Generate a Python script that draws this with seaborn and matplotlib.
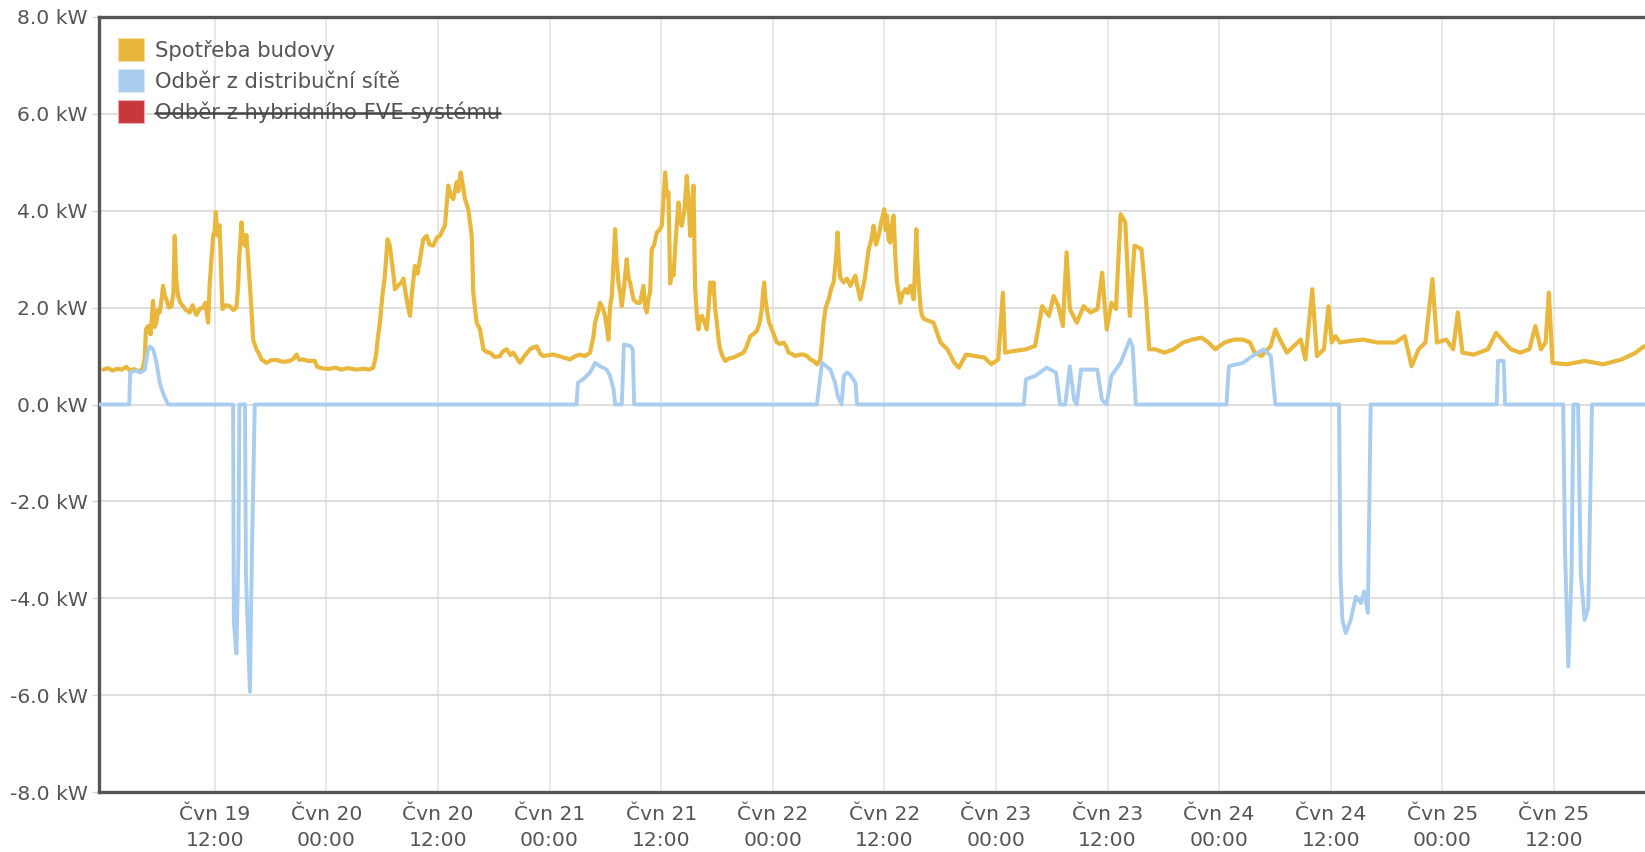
import matplotlib
matplotlib.use("Agg")
import matplotlib.pyplot as plt
import matplotlib.dates as mdates
from matplotlib.patches import Patch
from matplotlib.lines import Line2D
import pandas as pd
import seaborn as sns

START = pd.Timestamp("2019-06-19 00:00")

# Spotřeba budovy: hours since Čvn 19 00:00, kW
cons_h = [0.0, 0.5, 1.0, 1.5, 2.0, 2.5, 2.85, 3.3, 3.8, 4.2, 4.47, 4.6, 4.82, 5.1, 5.36, 5.55, 5.72, 5.9,
          6.08, 6.3, 6.44, 6.62, 6.8, 7.05, 7.34, 7.55, 7.69, 7.85, 8.05, 8.3, 8.59, 8.9, 9.31, 9.6, 10.03,
          10.4, 10.75, 11.0, 11.28, 11.46, 11.82, 12.0, 12.11, 12.25, 12.36, 12.5, 12.61, 12.82, 13.2, 13.61,
          14.0, 14.33, 14.5, 14.62, 14.87, 15.05, 15.23, 15.4, 15.59, 15.8, 15.94, 16.12, 16.48, 16.75, 17.02,
          17.56, 18.1, 18.63, 19.3, 20.07, 20.5, 20.79, 21.1, 21.5, 22.0, 22.4, 22.76, 23.0, 23.3, 23.8, 24.38,
          25.0, 25.6, 26.3, 27.25, 28.0, 28.6, 29.04, 29.33, 29.55, 29.76, 30.0, 30.29, 30.58, 30.8, 31.01,
          31.2, 31.37, 31.7, 32.09, 32.3, 32.45, 32.7, 32.99, 33.2, 33.52, 33.8, 34.06, 34.42, 34.78, 35.1,
          35.5, 35.9, 36.22, 36.5, 36.75, 37.11, 37.4, 37.65, 38.01, 38.2, 38.44, 38.7, 38.91, 39.27, 39.63,
          39.8, 40.16, 40.52, 40.88, 41.25, 41.6, 42.1, 42.67, 43.0, 43.39, 43.8, 44.11, 44.5, 44.82, 45.3,
          45.9, 46.3, 46.62, 47.0, 47.34, 47.9, 48.41, 49.0, 49.49, 49.9, 50.21, 50.8, 51.28, 51.8, 52.36,
          52.72, 52.9, 53.2, 53.43, 53.7, 53.97, 54.15, 54.33, 54.5, 54.69, 54.9, 55.05, 55.2, 55.41, 55.6,
          55.77, 56.0, 56.3, 56.5, 56.66, 57.02, 57.4, 57.74, 58.1, 58.3, 58.46, 58.65, 58.81, 58.99, 59.25,
          59.53, 59.8, 60.07, 60.25, 60.43, 60.6, 60.79, 60.97, 61.15, 61.33, 61.6, 61.86, 62.05, 62.22, 62.5,
          62.76, 62.95, 63.12, 63.3, 63.48, 63.6, 63.66, 63.85, 64.02, 64.2, 64.38, 64.65, 64.91, 65.1, 65.27,
          65.45, 65.63, 65.8, 65.99, 66.2, 66.35, 66.6, 66.89, 67.3, 67.78, 68.3, 68.86, 69.2, 69.58, 69.9,
          70.3, 70.6, 70.83, 70.95, 71.08, 71.2, 71.37, 71.6, 71.91, 72.2, 72.45, 72.8, 73.17, 73.45, 73.7,
          74.0, 74.42, 74.9, 75.32, 75.7, 76.04, 76.4, 76.75, 77.11, 77.3, 77.47, 77.7, 78.01, 78.3, 78.55,
          78.8, 78.98, 79.1, 79.26, 79.62, 80.0, 80.34, 80.6, 80.88, 81.15, 81.42, 81.9, 82.31, 82.6, 82.85,
          83.1, 83.39, 83.6, 83.75, 84.0, 84.15, 84.29, 84.45, 84.64, 84.8, 85.0, 85.2, 85.36, 85.55, 85.72,
          86.0, 86.26, 86.5, 86.8, 87.0, 87.16, 87.3, 87.44, 87.55, 87.69, 87.9, 88.05, 88.3, 89.29, 90.04,
          90.78, 91.53, 92.03, 92.77, 93.76, 94.76, 95.5, 96.25, 96.75, 96.99, 97.74, 99.23, 100.22, 100.97,
          101.71, 102.21, 102.71, 103.2, 103.6, 103.95, 104.69, 105.44, 106.18, 106.93, 107.42, 107.92,
          108.42, 108.91, 109.41, 109.91, 110.4, 110.9, 111.65, 112.14, 112.49, 113.14, 114.13, 115.12,
          116.12, 117.11, 118.1, 118.85, 119.59, 120.59, 121.58, 122.57, 123.32, 123.82, 124.56, 125.56,
          126.05, 126.55, 127.29, 128.04, 128.78, 129.28, 130.02, 130.52, 131.27, 131.76, 132.11, 132.51,
          133.0, 134.0, 135.49, 136.98, 138.96, 139.96, 140.7, 141.45, 142.19, 142.94, 143.43, 144.43,
          145.17, 145.67, 146.17, 147.41, 148.9, 149.79, 150.7, 151.38, 152.37, 153.37, 154.01, 154.61,
          155.11, 155.46, 155.85, 157.34, 159.33, 161.32, 163.3, 164.79, 165.69]
cons_kw = [0.72, 0.75, 0.7, 0.74, 0.72, 0.78, 0.7, 0.73, 0.69, 0.72, 0.95, 1.55, 1.62, 1.45, 2.14, 1.6, 1.7, 1.95,
           1.9, 2.2, 2.45, 2.25, 2.17, 2.0, 2.03, 2.3, 3.48, 2.6, 2.24, 2.1, 2.03, 1.95, 1.9, 2.05, 1.85,
           1.98, 2.0, 2.1, 1.69, 2.5, 3.48, 3.6, 3.97, 3.5, 3.48, 3.7, 3.2, 1.97, 2.05, 2.03,
           1.95, 2.0, 2.4, 3.0, 3.76, 3.4, 3.28, 3.5, 3.0, 2.4, 1.97, 1.34, 1.14, 1.05, 0.93,
           0.86, 0.92, 0.92, 0.88, 0.9, 0.95, 1.03, 0.92, 0.93, 0.9, 0.9, 0.9, 0.78, 0.76, 0.74, 0.74,
           0.76, 0.72, 0.75, 0.72, 0.74, 0.72, 0.76, 1.0, 1.4, 1.69, 2.2, 2.66, 3.41, 3.3, 3.0,
           2.7, 2.38, 2.45, 2.52, 2.6, 2.38, 2.1, 1.83, 2.3, 2.86, 2.7, 3.0, 3.41, 3.48, 3.3,
           3.28, 3.45, 3.48, 3.6, 3.69, 4.52, 4.3, 4.24, 4.59, 4.4, 4.79, 4.5, 4.24, 4.03, 3.48,
           2.31, 1.69, 1.55, 1.14, 1.08, 1.07, 0.98, 1.0, 1.1, 1.14, 1.02, 1.07, 0.95, 0.86, 1.0,
           1.14, 1.18, 1.2, 1.05, 1.0, 1.02, 1.03, 1.0, 0.97, 0.95, 0.93, 1.0, 1.03, 1.0, 1.07,
           1.41, 1.69, 1.9, 2.1, 2.0, 1.83, 1.6, 1.34, 2.0, 2.24, 3.0, 3.62, 3.0, 2.52, 2.3,
           2.03, 2.4, 3.0, 2.6, 2.52, 2.17, 2.1, 2.1, 2.45, 2.0, 1.9, 2.2, 2.31, 3.2, 3.3,
           3.55, 3.6, 3.69, 4.2, 4.79, 4.3, 4.38, 2.5, 2.8, 2.66, 3.5, 4.17, 3.8, 3.69, 4.0,
           4.72, 4.2, 3.48, 4.0, 4.52, 3.0, 2.41, 1.8, 1.55, 1.8, 1.83, 1.7, 1.55, 2.0, 2.52,
           2.3, 2.52, 2.0, 1.69, 1.3, 1.14, 1.0, 0.9, 0.95, 0.97, 1.02, 1.07, 1.2, 1.41, 1.45,
           1.52, 1.7, 1.97, 2.3, 2.52, 2.2, 1.97, 1.7, 1.55, 1.4, 1.28, 1.25, 1.28, 1.2, 1.07,
           1.05, 1.0, 1.03, 1.03, 1.0, 0.93, 0.9, 0.83, 0.93, 1.3, 1.69, 2.0, 2.17, 2.4, 2.52,
           3.0, 3.55, 3.0, 2.62, 2.52, 2.6, 2.45, 2.55, 2.66, 2.4, 2.17, 2.6, 3.2, 3.4, 3.69,
           3.3, 3.48, 3.7, 3.83, 4.03, 3.6, 3.9, 3.4, 3.34, 3.7, 3.9, 3.0, 2.52, 2.3, 2.1,
           2.3, 2.38, 2.3, 2.45, 2.3, 2.17, 2.8, 3.62, 3.0, 2.52, 2.0, 1.83, 1.76, 1.69, 1.28,
           1.14, 0.86, 0.76, 1.03, 1.0, 0.97, 0.83, 0.93, 2.31, 1.07, 1.1, 1.14, 1.21, 2.03,
           1.83, 2.24, 2.03, 1.62, 3.14, 1.97, 1.69, 2.03, 1.9, 1.97, 2.72, 1.55,
           2.1, 1.97, 3.93, 3.76, 1.83, 3.28, 3.21, 2.17, 1.14, 1.14, 1.07, 1.14,
           1.28, 1.34, 1.38, 1.28, 1.14, 1.28, 1.34, 1.34, 1.28, 1.07, 1.0, 1.21,
           1.55, 1.34, 1.07, 1.21, 1.34, 0.93, 2.38, 1.0, 1.14, 2.03, 1.28, 1.41,
           1.28, 1.31, 1.34, 1.28, 1.28, 1.41, 0.79, 1.14, 1.28, 2.59, 1.28, 1.34,
           1.14, 1.9, 1.07, 1.03, 1.14, 1.48, 1.28, 1.14, 1.07, 1.14, 1.62, 1.14,
           1.28, 2.31, 0.86, 0.83, 0.9, 0.83, 0.93, 1.07, 1.2]

# Odběr z distribuční sítě: hours since Čvn 19 00:00, kW
grid_h = [-0.5, 2.8, 2.9, 3.5, 4.0, 4.47, 4.8, 5.0, 5.36, 5.7, 6.08, 6.5, 6.98,
          13.97, 14.05, 14.33, 14.55, 14.65, 15.25, 15.35, 15.78, 16.0, 16.3,
          50.9, 51.05, 51.6, 52.36, 52.9, 53.43, 54.15, 54.5, 54.9, 55.05, 55.77, 56.0, 56.66, 56.95, 57.1,
          76.75, 77.3, 78.2, 78.7, 79.0, 79.4, 79.65, 79.98, 80.3, 80.9, 81.06,
          99.0, 99.23, 100.22, 101.46, 102.46, 102.9, 103.45, 103.95, 104.4, 104.7, 105.15, 106.9, 107.4,
          107.9, 108.42, 109.41, 110.4, 110.7, 111.05,
          120.8, 121.05, 122.57, 123.57, 124.8, 125.56, 126.05,
          132.9, 133.05, 133.26, 133.62, 134.15, 134.7, 135.25, 135.6, 136.0, 136.3,
          149.85, 150.0, 150.6, 150.75,
          157.0, 157.2, 157.55, 157.9, 158.1, 158.6, 158.9, 159.3, 159.7, 160.1, 166.0]
grid_kw = [0.0, 0.0, 0.66, 0.7, 0.66, 0.72, 1.1, 1.2, 1.14, 0.9, 0.45, 0.2, 0.0,
           0.0, -4.5, -5.14, -3.0, 0.0, 0.0, -3.5, -5.93, -3.0, 0.0,
           0.0, 0.45, 0.52, 0.66, 0.86, 0.79, 0.72, 0.59, 0.3, 0.0, 0.0, 1.24, 1.21, 1.14, 0.0,
           0.0, 0.86, 0.72, 0.45, 0.17, 0.0, 0.59, 0.66, 0.62, 0.45, 0.0,
           0.0, 0.52, 0.59, 0.76, 0.66, 0.0, 0.0, 0.79, 0.1, 0.0, 0.72, 0.72, 0.1,
           0.0, 0.59, 0.86, 1.34, 1.2, 0.0,
           0.0, 0.79, 0.86, 1.0, 1.14, 1.0, 0.0,
           0.0, -3.5, -4.45, -4.72, -4.45, -3.97, -4.1, -3.86, -4.3, 0.0,
           0.0, 0.9, 0.9, 0.0,
           0.0, -3.0, -5.41, -3.5, 0.0, 0.0, -3.5, -4.45, -4.2, 0.0, 0.0]

legend_labels = ["Spotřeba budovy", "Odběr z distribuční sítě", "Odběr z hybridního FVE systému"]
y_ticks = [-8, -6, -4, -2, 0, 2, 4, 6, 8]
x_tick_hours = list(range(12, 157, 12))
month_abbr = "Čvn"

COL_CONS = "#e8b73c"
COL_GRID = "#a9cdee"
COL_HYB = "#c8373a"
TXT = "#555555"
FS = 14.6

sns.set_theme(style="white")
plt.rcParams["font.family"] = ["DejaVu Sans"]

df_c = pd.DataFrame({"t": START + pd.to_timedelta(cons_h, unit="h"), "kW": cons_kw})
df_g = pd.DataFrame({"t": START + pd.to_timedelta(grid_h, unit="h"), "kW": grid_kw})

fig = plt.figure(figsize=(16.45, 8.52), dpi=100)
ax = fig.add_axes([99 / 1645, 60 / 852, 1546 / 1645, 775 / 852])

sns.lineplot(data=df_c, x="t", y="kW", color=COL_CONS, linewidth=3.0, estimator=None, sort=False, ax=ax, zorder=3)
sns.lineplot(data=df_g, x="t", y="kW", color=COL_GRID, linewidth=2.8, estimator=None, sort=False, ax=ax, zorder=4)

ax.set_xlim(START + pd.Timedelta(hours=-0.45), START + pd.Timedelta(hours=165.8))
ax.set_ylim(-8, 8)
ax.set_yticks(y_ticks)
ax.yaxis.set_major_formatter(plt.FuncFormatter(lambda v, p: f"{v:.1f} kW"))
ticks = [START + pd.Timedelta(hours=h) for h in x_tick_hours]
ax.set_xticks([mdates.date2num(t) for t in ticks])


def fmt_x(v, p):
    d = mdates.num2date(v)
    return f"{month_abbr} {d.day}\n{d:%H:%M}"


ax.xaxis.set_major_formatter(plt.FuncFormatter(fmt_x))
ax.set_xlabel("")
ax.set_ylabel("")

ax.yaxis.grid(True, color="#d4d4d4", linewidth=1.1)
ax.xaxis.grid(True, color="#e2e2e2", linewidth=1.1)
ax.set_axisbelow(True)

for s in ["left", "bottom", "top"]:
    ax.spines[s].set_color("#555555")
    ax.spines[s].set_linewidth(2.4)
ax.spines["right"].set_visible(False)

ax.tick_params(axis="y", length=5, width=1, color="#d4d4d4", pad=3, labelsize=FS, labelcolor=TXT, left=True)
ax.tick_params(axis="x", length=0, pad=9, labelsize=FS, labelcolor=TXT)
for lab in ax.get_xticklabels():
    lab.set_linespacing(1.5)

handles = [Patch(facecolor=COL_CONS, edgecolor="#f3dca0", linewidth=0.8),
           Patch(facecolor=COL_GRID, edgecolor="#d7e8f7", linewidth=0.8),
           Patch(facecolor=COL_HYB, edgecolor="#e9b0b0", linewidth=0.8)]
leg = ax.legend(handles, legend_labels, loc="upper left", bbox_to_anchor=(19 / 1546, 1 - 21 / 775),
                frameon=False, fontsize=FS + 0.6, handlelength=1.25, handleheight=1.3, handletextpad=0.5,
                labelspacing=0.38, borderpad=0, borderaxespad=0)
for t in leg.get_texts():
    t.set_color(TXT)

fig.canvas.draw()
txt3 = leg.get_texts()[2]
bb = txt3.get_window_extent(renderer=fig.canvas.get_renderer())
inv = fig.transFigure.inverted()
(x0, y0), (x1, y1) = inv.transform([(bb.x0, bb.y0), (bb.x1, bb.y1)])
ym = y0 + (y1 - y0) * 0.45
fig.add_artist(Line2D([x0, x1], [ym, ym], color="#444444", linewidth=1.8, transform=fig.transFigure))

fig.savefig("out.png", dpi=100)
